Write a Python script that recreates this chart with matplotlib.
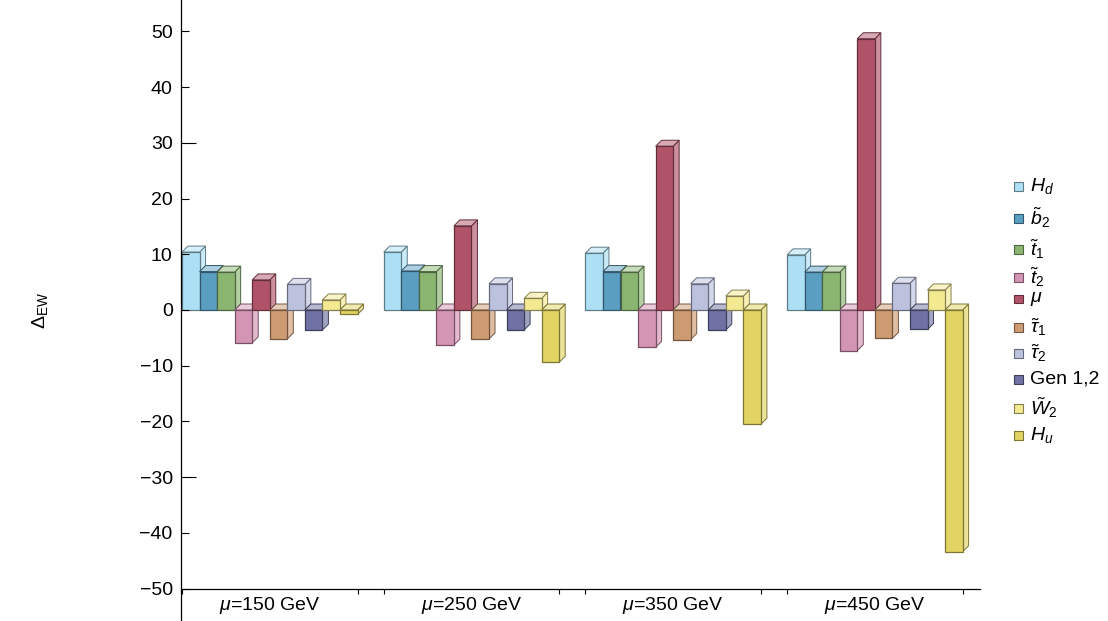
import matplotlib
matplotlib.use("Agg")
import matplotlib.pyplot as plt
from matplotlib.patches import Polygon, Rectangle
from matplotlib.colors import to_rgb

plt.rcParams['font.family'] = ['Liberation Sans', 'DejaVu Sans']
plt.rcParams['mathtext.fontset'] = 'custom'
plt.rcParams['mathtext.rm'] = 'Liberation Sans'
plt.rcParams['mathtext.it'] = 'Liberation Sans:italic'
plt.rcParams['font.size'] = 14

# dados
grupos = ["$\\mu$=150 GeV", "$\\mu$=250 GeV", "$\\mu$=350 GeV", "$\\mu$=450 GeV"]
componentes = ["$H_d$", "$\\tilde{b}_2$", "$\\tilde{t}_1$", "$\\tilde{t}_2$", "$\\mu$",
               "$\\tilde{\\tau}_1$", "$\\tilde{\\tau}_2$", "Gen 1,2", "$\\tilde{W}_2$", "$H_u$"]
cores = ["#ade0f4", "#5a9fc2", "#8bb672", "#d494b4", "#b05369",
         "#cd9b72", "#bcc1de", "#6f72a3", "#f3e991", "#e1d463"]

mu150 = [10.4, 6.9, 6.8, -5.9, 5.4, -5.2, 4.6, -3.6, 1.8, -0.8]
mu250 = [10.4, 7.0, 6.9, -6.3, 15.1, -5.2, 4.7, -3.6, 2.1, -9.4]
mu350 = [10.2, 6.9, 6.8, -6.7, 29.4, -5.3, 4.7, -3.6, 2.5, -20.5]
mu450 = [9.9, 6.8, 6.8, -7.3, 48.7, -5.1, 4.8, -3.5, 3.6, -43.4]
valores = [mu150, mu250, mu350, mu450]

yticks = list(range(-50, 51, 10))


def clarear(cor, f):
    r, g, b = to_rgb(cor)
    return (r + (1 - r) * f, g + (1 - g) * f, b + (1 - b) * f)


def escurecer(cor, f):
    r, g, b = to_rgb(cor)
    return (r * f, g * f, b * f)


fig = plt.figure(figsize=(11.08, 6.21), dpi=100)
ax = fig.add_axes([181 / 1108, 0, (980 - 181) / 1108, 1])

px_x = 17.55          # pixels por unidade em x (largura da barra)
px_y = 5.57           # pixels por unidade em y
dx = 6 / px_x
dy = 6 / px_y
passo = 201.7 / px_x
inicio = 1.0 / px_x

ax.set_xlim(0, (980 - 181) / px_x)
ax.set_ylim(-311 / px_y, 310 / px_y)

# barras com efeito 3D
for g, vals in enumerate(valores):
    x_grupo = inicio + g * passo
    for i, v in enumerate(vals):
        x0 = x_grupo + i
        yb = min(0, v)
        yt = max(0, v)
        cor = cores[i]
        borda = escurecer(cor, 0.55)
        lado = Polygon([(x0 + 1, yb), (x0 + 1 + dx, yb + dy), (x0 + 1 + dx, yt + dy), (x0 + 1, yt)],
                       closed=True, facecolor=clarear(cor, 0.35), edgecolor=borda, linewidth=0.7)
        topo = Polygon([(x0, yt), (x0 + 1, yt), (x0 + 1 + dx, yt + dy), (x0 + dx, yt + dy)],
                       closed=True, facecolor=clarear(cor, 0.5), edgecolor=borda, linewidth=0.7)
        frente = Rectangle((x0, yb), 1, yt - yb, facecolor=cor, edgecolor=borda, linewidth=0.9)
        ax.add_patch(lado)
        ax.add_patch(topo)
        ax.add_patch(frente)

# eixos
for s in ["top", "right"]:
    ax.spines[s].set_visible(False)
ax.spines["bottom"].set_position(("data", -50))
ax.spines["left"].set_linewidth(0.9)
ax.spines["bottom"].set_linewidth(0.9)

ax.set_yticks(yticks)
ax.set_yticklabels([str(t).replace("-", "\u2212") for t in yticks])
ax.tick_params(axis="y", direction="in", length=5.5, width=0.8, pad=6)
for t in ax.yaxis.get_major_ticks():
    if abs(t.get_loc()) == 30:
        t.tick1line.set_markersize(11)

bordas = []
for g in range(len(grupos)):
    x_grupo = inicio + g * passo
    bordas += [x_grupo, x_grupo + len(componentes)]
ax.set_xticks(bordas)
ax.set_xticklabels([])
ax.tick_params(axis="x", direction="out", length=3.5, width=0.8)

for g, nome in enumerate(grupos):
    xc = inicio + g * passo + len(componentes) / 2
    ax.text(xc, -50 - 6 / px_y, nome, ha="center", va="top", fontsize=14)

fig.text(40 / 1108, 1 - 310 / 621, "$\\Delta_{\\rm EW}$", rotation=90, ha="center", va="center", fontsize=14)

# legenda manual
ys_leg = [186, 218, 249, 277, 299, 327, 353, 379, 408, 435]
for nome, cor, yl in zip(componentes, cores, ys_leg):
    fig.patches.append(Rectangle(((1014) / 1108, 1 - (yl + 4.5) / 621), 9 / 1108, 9 / 621,
                                 transform=fig.transFigure, facecolor=cor,
                                 edgecolor=escurecer(cor, 0.55), linewidth=0.8))
    fig.text(1030 / 1108, 1 - yl / 621, nome, ha="left", va="center", fontsize=14)

fig.savefig("out.png", dpi=100)
